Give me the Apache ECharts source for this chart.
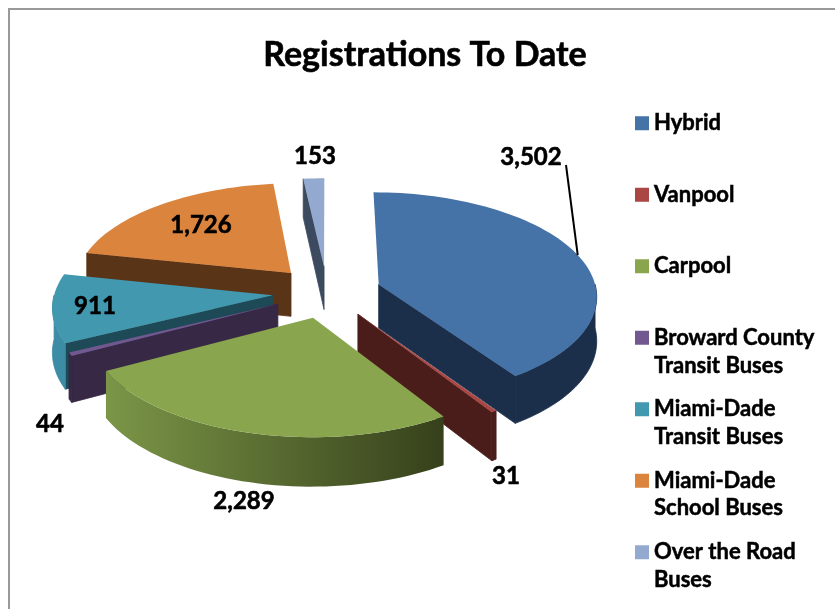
<!DOCTYPE html>
<html>
<head>
<meta charset="utf-8">
<style>
  html, body { margin: 0; background: #fff; }
  #chart { width: 835px; height: 609px; }
</style>
<script src="https://cdn.jsdelivr.net/npm/echarts@6/dist/echarts.min.js"></script>
</head>
<body>
<div id="chart"></div>
<script>
const categories = [
  "Hybrid",
  "Vanpool",
  "Carpool",
  "Broward County Transit Buses",
  "Miami-Dade Transit Buses",
  "Miami-Dade School Buses",
  "Over the Road Buses",
];
const values = [3502, 31, 2289, 44, 911, 1726, 153];
const valueLabels = ["3,502", "31", "2,289", "44", "911", "1,726", "153"];

const topColors = ["#4572a7", "#aa4643", "#89a54e", "#71588f", "#4198af", "#db843d", "#93a9cf"];
const sideColors = ["#1b2f4a", "#4a1d1b", "#5f7036", "#372845", "#1e4a57", "#5a3417", "#3c4a60"];
const rimColors = ["#1b2f4a", "#4a1d1b", null, "#372845", "#3b8ca4", "#5a3417", "#3c4a60"];
// painter's order, back to front
const drawOrder = [6, 5, 4, 3, 0, 1, 2];

const labelSpots = [[531, 157], [506, 476], [244, 501], [50, 424], [95, 306], [201, 225], [315, 156]];
const legendSecondLines = { 3: ["Transit Buses", 366], 4: ["Transit Buses", 437], 5: ["School Buses", 508], 6: ["Buses", 580] };

// pie geometry
const cx = 327, cy = 292, radius = 218, tilt = 0.477, persp = 0.1, explode = 0.25, depth = 44;
const total = values.reduce((a, b) => a + b, 0);
const DEG = Math.PI / 180;

function sliceAngles(i) {
  const before = values.slice(0, i).reduce((a, b) => a + b, 0);
  return [before / total * 360, (before + values[i]) / total * 360];
}

// disc coords (x right, y to the viewer, in radii) to screen
function project(x, y, down) {
  const f = 1 + persp * y;
  return [cx + radius * x * f, cy + radius * tilt * y * f + (down || 0) * f];
}

function rimPoint(i, deg, r, down) {
  const [a0, a1] = sliceAngles(i);
  const mid = (a0 + a1) / 2 * DEG;
  const a = deg * DEG;
  return project(
    explode * Math.sin(mid) + r * Math.sin(a),
    -explode * Math.cos(mid) - r * Math.cos(a),
    down,
  );
}

function arcPoints(i, from, to, down) {
  const pts = [];
  const steps = Math.max(2, Math.ceil((to - from) / 2));
  for (let s = 0; s <= steps; s++) pts.push(rimPoint(i, from + (to - from) * s / steps, 1, down));
  return pts;
}

function radialWall(i, deg, fill) {
  return {
    type: "polygon",
    shape: { points: [rimPoint(i, deg, 0), rimPoint(i, deg, 1), rimPoint(i, deg, 1, depth), rimPoint(i, deg, 0, depth)] },
    // same colour stroke closes the seam against the rim
    style: { fill, stroke: fill, lineWidth: 0.8 },
  };
}

function renderSlice(i) {
  const [a0, a1] = sliceAngles(i);
  const children = [];

  if (Math.sin(a0 * DEG) < 0) children.push(radialWall(i, a0, sideColors[i]));
  if (Math.sin(a1 * DEG) > 0) children.push(radialWall(i, a1, sideColors[i]));

  const from = Math.max(a0, 90), to = Math.min(a1, 270);
  if (to > from) {
    const rimFill = rimColors[i] || new echarts.graphic.LinearGradient(1, 0, 0, 0, [
      { offset: 0, color: "#36401b" },
      { offset: 1, color: "#7b9647" },
    ]);
    children.push({
      type: "polygon",
      shape: { points: arcPoints(i, from, to, 0).concat(arcPoints(i, from, to, depth).reverse()) },
      style: { fill: rimFill, stroke: rimColors[i] || "none", lineWidth: 0.8 },
    });
  }

  children.push({
    type: "polygon",
    shape: { points: [rimPoint(i, 0, 0)].concat(arcPoints(i, a0, a1, 0)) },
    style: { fill: topColors[i] },
  });

  children.push({
    type: "text",
    style: {
      x: labelSpots[i][0],
      y: labelSpots[i][1],
      text: valueLabels[i],
      fill: "#000",
      stroke: "#000",
      lineWidth: 0.6,
      font: "bold 24px Lato",
      align: "center",
      verticalAlign: "middle",
    },
  });

  // only the big slice gets a leader line in the original
  if (i === 0) {
    const tip = rimPoint(i, (a0 + a1) / 2, 1);
    children.push({
      type: "polyline",
      shape: { points: [[566, 165], tip] },
      style: { stroke: "#000", lineWidth: 2, fill: "none" },
    });
  }
  return { type: "group", children };
}

const chart = echarts.init(document.getElementById("chart"));
chart.setOption({
  animation: false,
  backgroundColor: "#fff",
  title: {
    text: "Registrations To Date",
    left: 420,
    top: 33,
    textAlign: "center",
    textStyle: { fontFamily: "Lato", fontWeight: "bold", fontSize: 34, color: "#000", textBorderColor: "#000", textBorderWidth: 0.6 },
  },
  legend: {
    orient: "vertical",
    left: 635,
    top: 112,
    padding: 0,
    itemWidth: 14,
    itemHeight: 14,
    itemGap: 49,
    icon: "rect",
    selectedMode: false,
    data: categories,
    formatter: (name) => {
      const i = categories.indexOf(name);
      if (legendSecondLines[i]) return name.slice(0, name.length - legendSecondLines[i][0].length - 1);
      return name;
    },
    textStyle: { fontFamily: "Lato", fontWeight: "bold", fontSize: 22, lineHeight: 20, color: "#000", textBorderColor: "#000", textBorderWidth: 0.5 },
  },
  graphic: [
    {
      type: "rect",
      shape: { x: 9, y: 9, width: 1000, height: 1000 },
      style: { fill: "none", stroke: "#999", lineWidth: 2 },
      silent: true,
      z: -1,
    },
  ].concat(Object.values(legendSecondLines).map(([text, y]) => ({
    type: "text",
    style: { x: 654, y, text, fill: "#000", stroke: "#000", lineWidth: 0.5, font: "bold 22px Lato", verticalAlign: "middle" },
    silent: true,
  }))),
  series: categories.map((name, i) => ({
    type: "custom",
    name,
    coordinateSystem: "none",
    silent: true,
    z: 2 + drawOrder.indexOf(i),
    itemStyle: { color: topColors[i] },
    data: [values[i]],
    renderItem: () => renderSlice(i),
  })),
});
</script>
</body>
</html>
